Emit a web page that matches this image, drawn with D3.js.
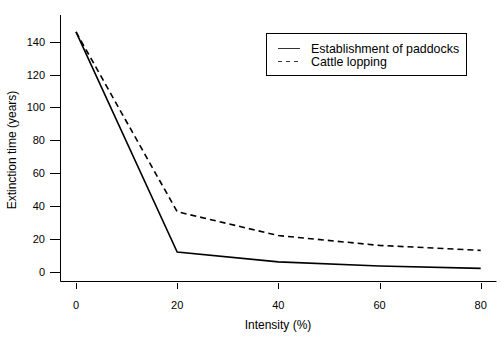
<!DOCTYPE html>
<html lang="en">
<head>
    <meta charset="UTF-8">
    <title>Extinction time</title>
    <script src="https://d3js.org/d3.v7.min.js"></script>
    <style>
        body { margin: 0; background: #fff; }
        svg { font-family: "Liberation Sans", Arial, sans-serif; }
        .axis text { font-size: 11px; fill: #000; }
        .axis path, .axis line { stroke: #000; }
    </style>
</head>
<body>
    <svg width="502" height="346"></svg>
    <script>
        // data
        const intensity = [0, 20, 40, 60, 80];
        const paddocks = [146, 12, 6, 3.5, 2];
        const lopping = [146, 36.5, 22, 16, 13];
        const xTicks = [0, 20, 40, 60, 80];
        const yTicks = [0, 20, 40, 60, 80, 100, 120, 140];

        const svg = d3.select("svg");

        const x = d3.scaleLinear().domain([0, 80]).range([76, 480.7]);
        const y = d3.scaleLinear().domain([0, 140]).range([271.7, 41.7]);

        // x axis (L-shaped box, R style)
        const gx = svg.append("g").attr("class", "axis");
        gx.append("line").attr("x1", 60.5).attr("x2", 496.5).attr("y1", 281.5).attr("y2", 281.5);
        gx.selectAll(".xt").data(xTicks).enter().append("line")
            .attr("x1", d => Math.round(x(d)) + 0.5).attr("x2", d => Math.round(x(d)) + 0.5)
            .attr("y1", 283).attr("y2", 289);
        gx.selectAll(".xl").data(xTicks).enter().append("text")
            .attr("x", d => x(d)).attr("y", 309)
            .attr("text-anchor", "middle").text(d => d);

        // y axis
        const gy = svg.append("g").attr("class", "axis");
        gy.append("line").attr("x1", 60.5).attr("x2", 60.5).attr("y1", 15).attr("y2", 281.5);
        gy.selectAll(".yt").data(yTicks).enter().append("line")
            .attr("x1", 50).attr("x2", 60.5)
            .attr("y1", d => Math.round(y(d)) + 0.5).attr("y2", d => Math.round(y(d)) + 0.5);
        gy.selectAll(".yl").data(yTicks).enter().append("text")
            .attr("x", 45).attr("y", d => y(d) + 4)
            .attr("text-anchor", "end").text(d => d);

        svg.append("text").attr("class", "axis")
            .attr("x", 278).attr("y", 329)
            .attr("text-anchor", "middle").style("font-size", "12px")
            .text("Intensity (%)");
        svg.append("text")
            .attr("transform", "translate(16,150) rotate(-90)")
            .attr("text-anchor", "middle").style("font-size", "12px")
            .text("Extinction time (years)");

        const line = d3.line().x(d => x(d[0])).y(d => y(d[1]));

        svg.append("path")
            .datum(d3.zip(intensity, lopping))
            .attr("d", line)
            .attr("fill", "none").attr("stroke", "#000")
            .attr("stroke-width", 1.6).attr("stroke-dasharray", "6,4");

        svg.append("path")
            .datum(d3.zip(intensity, paddocks))
            .attr("d", line)
            .attr("fill", "none").attr("stroke", "#000")
            .attr("stroke-width", 1.6);

        // legend
        const lg = svg.append("g");
        lg.append("rect").attr("x", 266.5).attr("y", 33.5).attr("width", 200).attr("height", 42)
            .attr("fill", "#fff").attr("stroke", "#000");
        const items = [["Establishment of paddocks", null], ["Cattle lopping", "4,4"]];
        items.forEach((it, i) => {
            const yy = 48.5 + i * 13;
            lg.append("line").attr("x1", 278).attr("x2", 300)
                .attr("y1", yy).attr("y2", yy)
                .attr("stroke", "#000").attr("stroke-width", 0.8)
                .attr("stroke-dasharray", it[1]);
            lg.append("text").attr("x", 311).attr("y", yy + 4.5)
                .style("font-size", "12.4px").text(it[0]);
        });
    </script>
</body>
</html>
